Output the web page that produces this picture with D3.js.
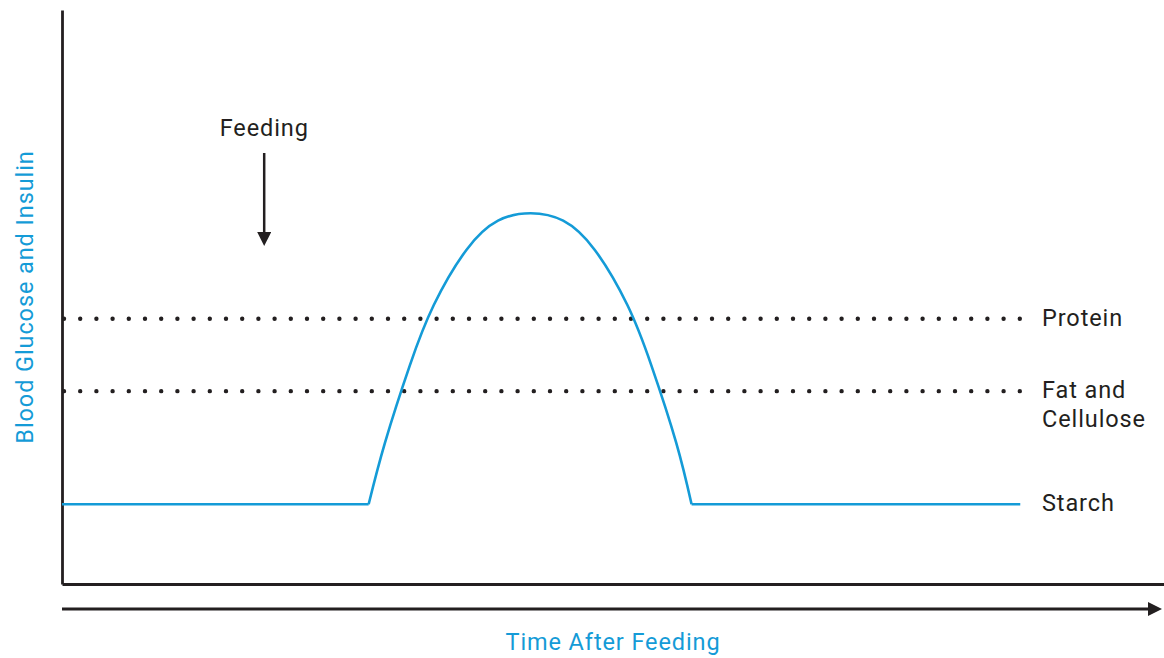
<!DOCTYPE html>
<html lang="en">
<head>
    <meta charset="UTF-8">
    <title>Blood Glucose and Insulin</title>
    <script src="https://d3js.org/d3.v7.min.js"></script>
    <style>
        body { margin: 0; background: #fff; }
        svg { display: block; }
    </style>
</head>
<body>
    <svg width="1164" height="658"></svg>
    <script>
// values (time units 0-115, level units 0-10)
const baseLevels = [
    {name: "Protein", level: 4.62},
    {name: "Fat and|Cellulose", level: 3.36}
];
const starchFlat = [[0, 1.39, 32.0], [65.7, 1.39, 100]];
const starchHumpT = [32.0, 33.7, 36.3, 38.8, 42.2, 45.5, 48.9, 52.3, 55.6, 59.0, 61.5, 64.1, 65.7];
const starchHumpY = [1.39, 2.46, 3.81, 4.86, 5.82, 6.33, 6.46, 6.33, 5.82, 4.86, 3.81, 2.46, 1.39];
const lineEnd = 100;
const feedingTime = 21.1;

const svg = d3.select("svg");
const ink = "#231f20";
const blue = "#149bd7";
const font = "Roboto, 'Liberation Sans', Arial, sans-serif";

const x = d3.scaleLinear().domain([0, 115]).range([62, 1164]);
const y = d3.scaleLinear().domain([0, 10]).range([584, 10]);

// arrow heads
const defs = svg.append("defs");
defs.append("marker")
    .attr("id", "head")
    .attr("viewBox", "0 0 10 10")
    .attr("refX", 0).attr("refY", 5)
    .attr("markerUnits", "userSpaceOnUse")
    .attr("markerWidth", 16).attr("markerHeight", 14)
    .attr("orient", "auto")
    .append("path")
    .attr("d", "M0,0 L10,5 L0,10 Z")
    .attr("fill", ink);

// axes (no ticks)
svg.append("g")
    .attr("transform", `translate(${x(0)},0)`)
    .call(d3.axisLeft(y).tickValues([]).tickSizeOuter(0))
    .select(".domain").attr("stroke", ink).attr("stroke-width", 2.8);
svg.append("g")
    .attr("transform", `translate(0,${y(0)})`)
    .call(d3.axisBottom(x).tickValues([]).tickSizeOuter(0))
    .select(".domain").attr("stroke", ink).attr("stroke-width", 2.8);

// time arrow below the axis
svg.append("line")
    .attr("x1", x(0)).attr("x2", 1148)
    .attr("y1", 609).attr("y2", 609)
    .attr("stroke", ink).attr("stroke-width", 2.8)
    .attr("marker-end", "url(#head)");

// dotted reference lines
svg.append("g")
    .selectAll("line")
    .data(baseLevels)
    .enter().append("line")
    .attr("x1", x(0) + 2).attr("x2", x(lineEnd) + 2)
    .attr("y1", d => y(d.level)).attr("y2", d => y(d.level))
    .attr("stroke", ink)
    .attr("stroke-width", 4.4)
    .attr("stroke-linecap", "round")
    .attr("stroke-dasharray", "0 16.2");

// starch line
const line = d3.line().x(d => x(d[0])).y(d => y(d[1]));
starchFlat.forEach(s => {
    svg.append("path")
        .attr("d", line([[s[0], s[1]], [s[2], s[1]]]))
        .attr("fill", "none").attr("stroke", blue).attr("stroke-width", 2.6);
});
svg.append("path")
    .attr("d", line.curve(d3.curveNatural)(starchHumpT.map((t, i) => [t, starchHumpY[i]])))
    .attr("fill", "none").attr("stroke", blue).attr("stroke-width", 2.6);

// labels at the right
const labels = baseLevels.concat([{name: "Starch", level: 1.39}]);
labels.forEach(d => {
    const parts = d.name.split("|");
    const t = svg.append("text")
        .attr("x", 1042)
        .attr("y", y(d.level) + 7)
        .style("font-family", font)
        .style("font-size", "23.5px")
        .style("letter-spacing", "0.9px")
        .attr("fill", ink);
    parts.forEach((p, i) => {
        t.append("tspan").attr("x", 1042).attr("dy", i === 0 ? 0 : 29).text(p);
    });
});

// feeding marker
svg.append("text")
    .attr("x", x(feedingTime)).attr("y", 135.5)
    .attr("text-anchor", "middle")
    .style("font-family", font).style("font-size", "23.5px")
    .style("letter-spacing", "0.9px")
    .attr("fill", ink)
    .text("Feeding");
svg.append("line")
    .attr("x1", x(feedingTime)).attr("x2", x(feedingTime))
    .attr("y1", 153).attr("y2", 232)
    .attr("stroke", ink).attr("stroke-width", 2.5)
    .attr("marker-end", "url(#head)");

// axis titles
svg.append("text")
    .attr("transform", "translate(33,297) rotate(-90)")
    .attr("text-anchor", "middle")
    .style("font-family", font).style("font-size", "23.5px")
    .style("letter-spacing", "0.9px")
    .attr("fill", blue)
    .text("Blood Glucose and Insulin");
svg.append("text")
    .attr("x", 613).attr("y", 649.5)
    .attr("text-anchor", "middle")
    .style("font-family", font).style("font-size", "23.5px")
    .style("letter-spacing", "0.9px")
    .attr("fill", blue)
    .text("Time After Feeding");
    </script>
</body>
</html>
